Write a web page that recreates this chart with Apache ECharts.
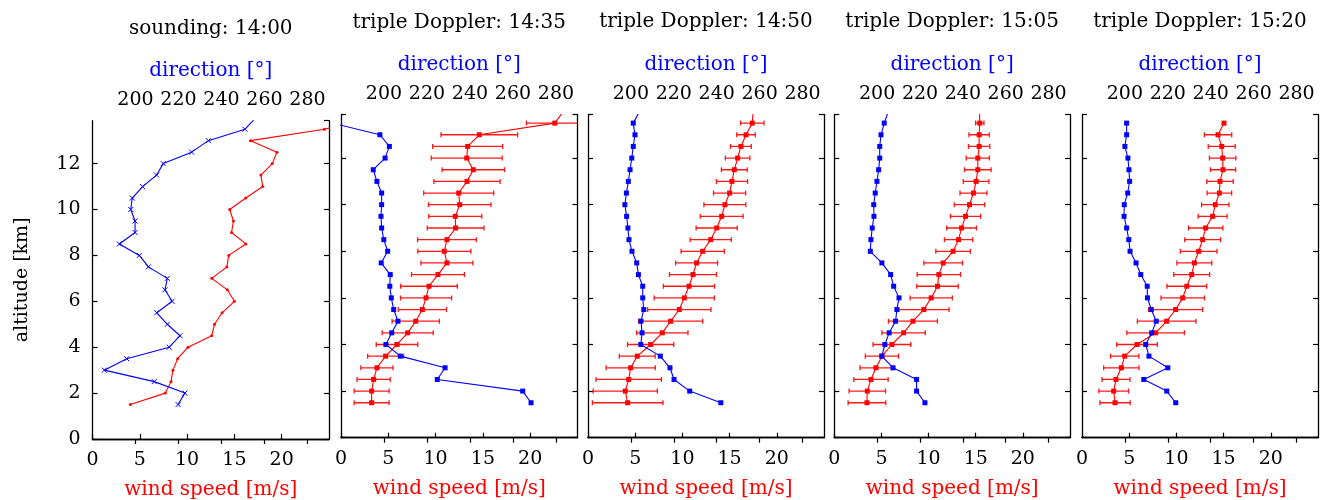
<!DOCTYPE html>
<html><head><meta charset="utf-8">
<script src="https://cdn.jsdelivr.net/npm/echarts@6/dist/echarts.min.js"></script>
<style>html,body{margin:0;padding:0;background:#fff}#c{width:1320px;height:500px}</style>
</head><body><div id="c"></div>
<script>
// ---------------- data ----------------
const altitudes = [1.5,2,2.5,3,3.5,4,4.5,5,5.5,6,6.5,7,7.5,8,8.5,9,9.5,10,10.5,11,11.5,12,12.5,13,13.5,14];
const panelTitles = ['sounding: 14:00','triple Doppler: 14:35','triple Doppler: 14:50','triple Doppler: 15:05','triple Doppler: 15:20'];
const speedTicks = [0,5,10,15,20];
const directionTicks = [200,220,240,260,280];
const altitudeTicks = [0,2,4,6,8,10,12];

const speed1400 = [4.0,7.7,8.3,8.5,9.0,10.1,12.6,12.9,13.7,15.0,14.25,12.6,14.2,14.4,16.2,14.7,14.9,14.5,16.2,18.0,17.8,19.0,19.5,16.7,24.5,30];
const dir1400   = [219.8,223.0,208.7,185.5,195.9,215.7,220.7,214.8,209.9,217.0,213.7,214.8,206.0,201.8,192.5,199.8,199.8,197.8,198.5,203.3,209.8,212.9,226.1,233.9,250.9,256];

const speed1435 = [3.24,3.24,3.45,3.8,4.72,5.92,7.05,7.9,8.6,8.99,9.3,10.25,11.2,10.92,11.2,12.12,12.08,12.55,12.44,13.32,13.99,13.29,13.39,14.62,22.6,23.5];
const err1435   = [1.85,1.85,1.75,1.7,1.9,2.2,2.7,2.5,2.55,2.7,3.0,2.8,2.75,2.8,3.1,3.0,2.8,3.3,3.7,3.5,3.3,3.75,3.7,4.05,3.0,3.0];
const dir1435   = [268.4,264.5,224.8,228.4,207.6,200.9,203.6,206.5,204.5,203.4,202.7,202.9,198.7,201.7,199.9,198.9,198.6,198.9,198.9,196.7,195.0,200.5,202.5,198.1,176,null];

const speed1450 = [4.2,3.95,4.31,4.52,5.22,6.64,7.87,8.76,9.67,10.2,10.7,11.12,11.5,12.15,13.0,13.63,14.16,14.5,15.0,15.25,15.5,15.85,16.2,16.74,17.4,17.5];
const err1450   = [3.74,3.4,3.46,2.61,1.9,2.45,2.72,3.39,3.35,3.19,2.71,2.49,2.22,2.29,2.18,2.18,2.27,2.22,1.7,1.65,1.37,1.3,1.1,0.98,1.24,1.2];
const dir1450   = [241.9,227.4,220.1,218.2,213.7,204.6,205.2,204.7,206.0,205.5,205.5,203.5,202.7,200.5,199.1,198.6,198.0,197.2,197.9,198.8,199.6,200.4,201.1,201.9,201.1,204];

const speed1505 = [3.46,3.5,3.89,4.42,5.05,6.11,7.35,8.34,9.5,10.28,10.95,11.09,11.55,12.6,13.18,13.5,13.92,14.34,14.76,15.04,15.22,15.22,15.36,15.36,15.43,15.4];
const err1505   = [2.0,1.93,1.82,1.7,1.76,2.0,2.3,2.6,2.67,2.24,2.2,2.3,2.05,1.83,1.5,1.58,1.6,1.62,1.43,1.36,1.41,1.23,1.13,1.08,0.44,0.4];
const dir1505   = [222.3,218.4,218.4,207.4,202.2,203.6,205.6,208.6,209.2,210.2,207.7,206.3,202.2,196.8,197.1,197.7,198.5,198.4,199.1,199.9,200.7,201.2,201.2,201.8,203.3,205.2];

const speed1520 = [3.5,3.36,3.6,4.17,4.52,5.83,7.8,8.97,9.92,10.67,11.1,11.62,11.9,12.36,12.78,13.1,13.84,14.12,14.55,14.62,14.94,14.9,14.8,14.41,15.04,null];
const err1520   = [1.6,1.57,1.48,1.87,1.5,2.15,3.05,3.1,2.86,2.3,2.1,1.9,1.85,1.94,1.9,1.82,1.53,1.45,1.3,1.4,1.33,1.4,1.43,1.45,0,null];
const dir1520   = [223.7,219.5,208.8,220.0,211.2,209.7,212.5,214.6,212.3,210.5,210.4,207.4,205.2,202.4,201.8,200.8,199.6,199.7,201.3,202.2,201.9,201.4,200.0,200.8,200.8,null];

const speeds = [speed1400, speed1435, speed1450, speed1505, speed1520];
const errors = [null, err1435, err1450, err1505, err1520];
const directions = [dir1400, dir1435, dir1450, dir1505, dir1520];

// ---------------- layout ----------------
const FONT = 'DejaVu Serif';
const layout = [
  {left: 92.5, top: 120.7, width: 236.5, height: 318.3, titleY: 29},
  {left: 341, top: 114.5, width: 236.5, height: 323.2, titleY: 23},
  {left: 588, top: 114.5, width: 236, height: 323.2, titleY: 22},
  {left: 834.3, top: 114.5, width: 235.7, height: 323.2, titleY: 22},
  {left: 1082, top: 114.5, width: 236, height: 323.2, titleY: 22}
];
const ALT_MAX = 13.87;

const grids = [], xAxes = [], yAxes = [], series = [], graphics = [];
const axisLine = {show: true, lineStyle: {color: '#000', width: 1.3}};
const tickIn = {show: true, inside: true, length: 5, lineStyle: {color: '#000', width: 1.2}};

layout.forEach((L, i) => {
  grids.push({left: L.left, top: L.top, width: L.width, height: L.height,
    containLabel: false, outerBoundsMode: 'none'});
  // bottom: wind speed
  xAxes.push({
    gridIndex: i, type: 'value', position: 'bottom', min: 0, max: 25, interval: 5,
    axisLine, axisTick: tickIn, splitLine: {show: false},
    axisLabel: {show: true, fontFamily: FONT, fontSize: 19, color: '#000', margin: 12,
      showMinLabel: true, showMaxLabel: false,
      formatter: v => speedTicks.includes(v) ? String(v) : ''},
    name: 'wind speed [m/s]', nameLocation: 'middle', nameGap: 41,
    nameTextStyle: {fontFamily: FONT, fontSize: 20, color: '#ff0000'}
  });
  // top: direction
  xAxes.push({
    gridIndex: i, type: 'value', position: 'top', min: 180, max: 290, interval: 20,
    axisLine, axisTick: tickIn, splitLine: {show: false},
    axisLabel: {show: true, fontFamily: FONT, fontSize: 19, color: '#000', margin: 11,
      showMinLabel: false, showMaxLabel: false,
      formatter: v => directionTicks.includes(v) ? String(v) : ''},
    name: 'direction [°]', nameLocation: 'middle', nameGap: 40,
    nameTextStyle: {fontFamily: FONT, fontSize: 20, color: '#0000ff'}
  });
  yAxes.push({
    gridIndex: i, type: 'value', position: 'left', min: 0, max: ALT_MAX, interval: 2,
    axisLine, axisTick: tickIn, splitLine: {show: false},
    axisLabel: {show: i === 0, fontFamily: FONT, fontSize: 19, color: '#000', margin: 12,
      showMaxLabel: false, formatter: v => altitudeTicks.includes(v) ? String(v) : ''},
    name: i === 0 ? 'altitude [km]' : '', nameLocation: 'middle', nameGap: 61, nameRotate: 90,
    nameTextStyle: {fontFamily: FONT, fontSize: 19, color: '#000'}
  });
  yAxes.push({
    gridIndex: i, type: 'value', position: 'right', min: 0, max: ALT_MAX, interval: 2,
    axisLine, axisTick: tickIn, splitLine: {show: false}, axisLabel: {show: false}
  });

  graphics.push({type: 'text', x: L.left + L.width / 2, y: L.titleY,
    style: {text: panelTitles[i], font: '20px "' + FONT + '"', fill: '#000', textAlign: 'center', textVerticalAlign: 'middle'}});

  const sp = [], dr = [], eb = [];
  altitudes.forEach((a, k) => {
    if (speeds[i][k] != null) sp.push([speeds[i][k], a]);
    if (directions[i][k] != null) dr.push([directions[i][k], a]);
    if (errors[i] && errors[i][k] != null && speeds[i][k] != null && errors[i][k] > 0)
      eb.push([speeds[i][k] - errors[i][k], speeds[i][k] + errors[i][k], a]);
  });

  if (eb.length) {
    series.push({
      type: 'custom', xAxisIndex: 2 * i, yAxisIndex: 2 * i, clip: true, silent: true,
      data: eb, z: 2,
      renderItem: (params, api) => {
        const p0 = api.coord([api.value(0), api.value(2)]);
        const p1 = api.coord([api.value(1), api.value(2)]);
        const c = 2.5;
        const st = {stroke: '#ff0000', lineWidth: 1.3, opacity: 0.9};
        return {type: 'group', children: [
          {type: 'line', shape: {x1: p0[0], y1: p0[1], x2: p1[0], y2: p1[1]}, style: st},
          {type: 'line', shape: {x1: p0[0], y1: p0[1] - c, x2: p0[0], y2: p0[1] + c}, style: st},
          {type: 'line', shape: {x1: p1[0], y1: p1[1] - c, x2: p1[0], y2: p1[1] + c}, style: st}
        ]};
      }
    });
  }
  const sounding = i === 0;
  series.push({
    type: 'line', xAxisIndex: 2 * i, yAxisIndex: 2 * i, data: sp, clip: true, z: 3,
    symbol: sounding ? 'circle' : 'rect', symbolSize: sounding ? 3 : 5,
    itemStyle: {color: '#ff0000'}, lineStyle: {color: '#ff0000', width: 1.1}
  });
  series.push({
    type: 'line', xAxisIndex: 2 * i + 1, yAxisIndex: 2 * i, data: dr, clip: true, z: 3,
    symbol: sounding ? 'path://M0,0L10,10M10,0L0,10' : 'rect', symbolSize: 5,
    itemStyle: {color: '#0000ff', borderColor: '#0000ff', borderWidth: sounding ? 1 : 0},
    lineStyle: {color: '#0000ff', width: 1.1}
  });
});

const chart = echarts.init(document.getElementById('c'), null, {renderer: 'canvas'});
chart.setOption({
  animation: false,
  backgroundColor: '#fff',
  grid: grids, xAxis: xAxes, yAxis: yAxes, series, graphic: graphics
});
</script></body></html>
